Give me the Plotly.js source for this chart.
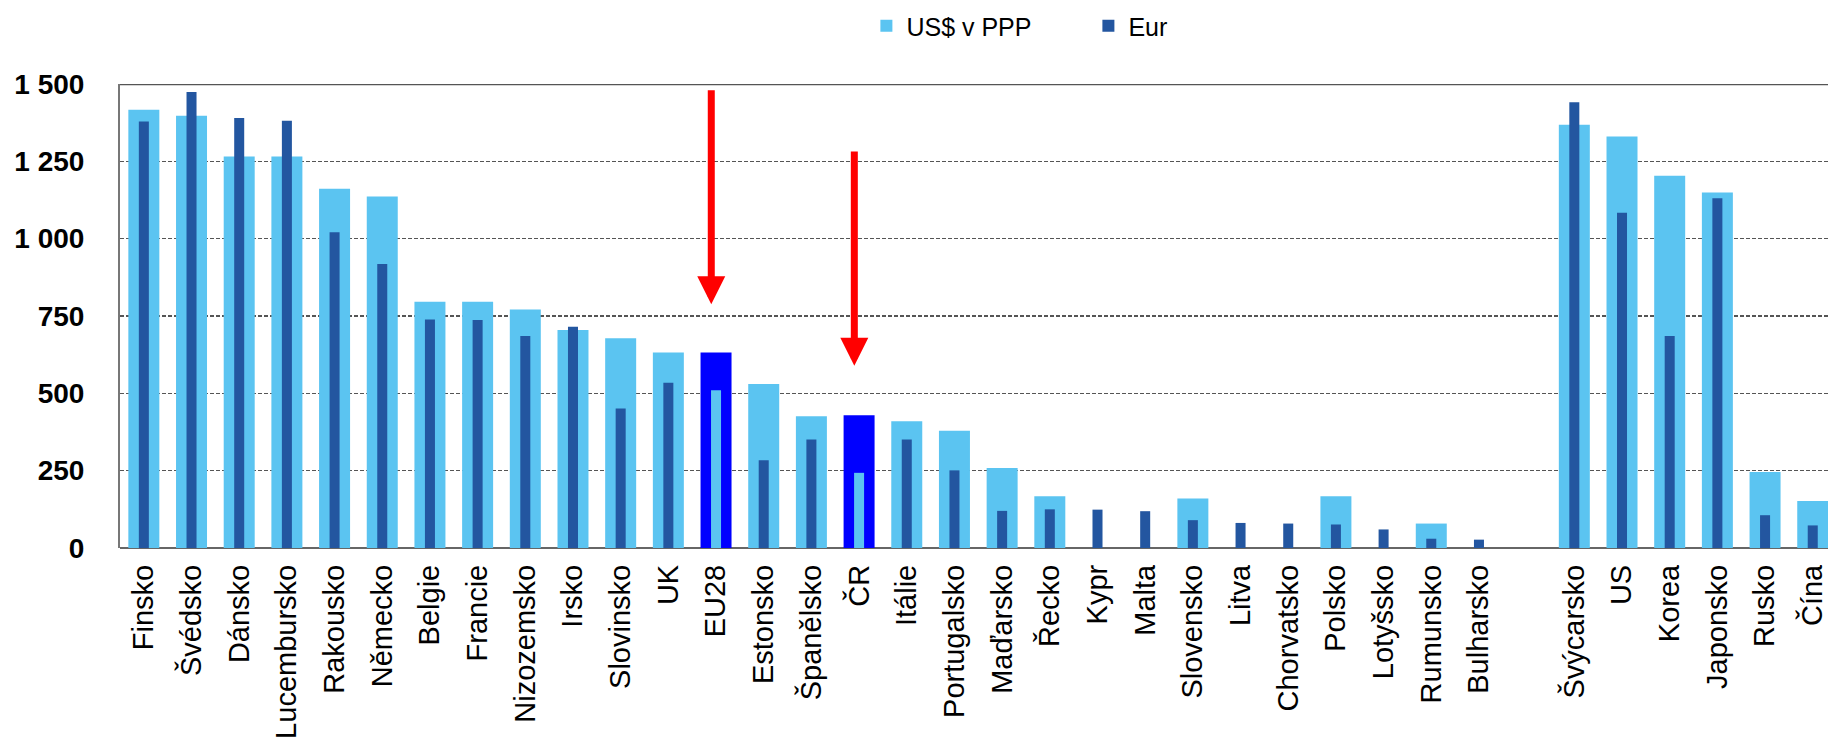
<!DOCTYPE html>
<html>
<head>
<meta charset="utf-8">
<script src="https://cdn.plot.ly/plotly-3.0.1.min.js"></script>
<style>
html,body{margin:0;padding:0;background:#fff;overflow:hidden;}
#chart{width:1828px;height:754px;}
</style>
</head>
<body>
<div id="chart"></div>
<script>
// Categories (the blank entry is the gap between EU and non-EU countries)
const categories = ["Finsko","Švédsko","Dánsko","Lucembursko","Rakousko","Německo","Belgie","Francie","Nizozemsko","Irsko","Slovinsko","UK","EU28","Estonsko","Španělsko","ČR","Itálie","Portugalsko","Maďarsko","Řecko","Kypr","Malta","Slovensko","Litva","Chorvatsko","Polsko","Lotyšsko","Rumunsko","Bulharsko"," ","Švýcarsko","US","Korea","Japonsko","Rusko","Čína"];

// US$ v PPP
const usdPPP = [1417,1397,1266,1266,1161,1136,796,796,771,705,678,632,632,530,426,429,410,379,259,167,null,null,160,null,null,167,null,79,null,null,1368,1330,1203,1149,246,152];

// Eur
const eur = [1379,1474,1390,1381,1021,918,739,737,685,715,451,534,510,284,351,243,351,251,120,125,124,119,90,81,79,76,60,30,27,null,1441,1084,685,1131,106,73];

// Highlighted categories
const highlighted = ["EU28","ČR"];

// Arrow annotations: [category, tip value, tail value]
const arrows = [["EU28",788,1485],["ČR",589,1287]];

// Y-axis ticks
const yTickVals = [0,250,500,750,1000,1250,1500];
const yTickText = ["0","250","500","750","1 000","1 250","1 500"];

const LIGHT = "#5BC4F1";
const DARK = "#2356A0";
const BRIGHT = "#0000FF";

const lightColors = categories.map(c => highlighted.includes(c) ? BRIGHT : LIGHT);
const darkColors = categories.map(c => highlighted.includes(c) ? LIGHT : DARK);

const traces = [
  {
    type: "bar", name: "US$ v PPP", x: categories, y: usdPPP,
    width: 0.65, marker: {color: lightColors, line: {width: 0}},
    hoverinfo: "x+y"
  },
  {
    type: "bar", name: "Eur", x: categories, y: eur,
    width: 0.21, marker: {color: darkColors, line: {width: 0}},
    hoverinfo: "x+y"
  }
];

const annotations = arrows.map(a => {
  const idx = categories.indexOf(a[0]) - 0.1;
  return {
    x: idx, y: a[1], ax: idx, ay: a[2],
    xref: "x", yref: "y", axref: "x", ayref: "y",
    text: "", showarrow: true,
    arrowhead: 2, arrowsize: 0.8, arrowwidth: 7, arrowcolor: "#FF0000"
  };
});

const layout = {
  width: 1828, height: 754,
  margin: {l: 120, r: 0, t: 84, b: 206},
  paper_bgcolor: "#ffffff", plot_bgcolor: "#ffffff",
  barmode: "overlay",
  font: {family: "Liberation Sans, Arial, sans-serif", color: "#000"},
  showlegend: true,
  legend: {
    orientation: "h", x: 0.437, y: 1.125, xanchor: "left", yanchor: "middle",
    font: {size: 25, color: "#000"}, traceorder: "normal",
    entrywidth: 177, itemwidth: 30, bgcolor: "rgba(0,0,0,0)"
  },
  xaxis: {
    type: "category", categoryorder: "array", categoryarray: categories,
    range: [-0.5, 35.32],
    tickangle: -90, tickfont: {size: 29, color: "#000"},
    showgrid: false, zeroline: false,
    showline: false, ticks: "", ticklabelstandoff: 10, fixedrange: true
  },
  yaxis: {
    range: [0, 1500], tickvals: yTickVals, ticktext: yTickText,
    tickfont: {size: 28, color: "#000", weight: "bold"},
    showgrid: true, gridcolor: "#555555", griddash: "4px,2px", gridwidth: 1.5,
    zeroline: true, zerolinecolor: "#666666", zerolinewidth: 2,
    showline: true, linecolor: "#777777", linewidth: 2,
    ticks: "", ticklabelstandoff: 28, fixedrange: true
  },
  shapes: [
    {type: "line", xref: "paper", yref: "y", x0: 0, x1: 1, y0: 1500, y1: 1500,
     line: {color: "#555555", width: 2.5}, layer: "above"}
  ],
  annotations: annotations
};

Plotly.newPlot("chart", traces, layout, {displayModeBar: false, staticPlot: true});
</script>
</body>
</html>
